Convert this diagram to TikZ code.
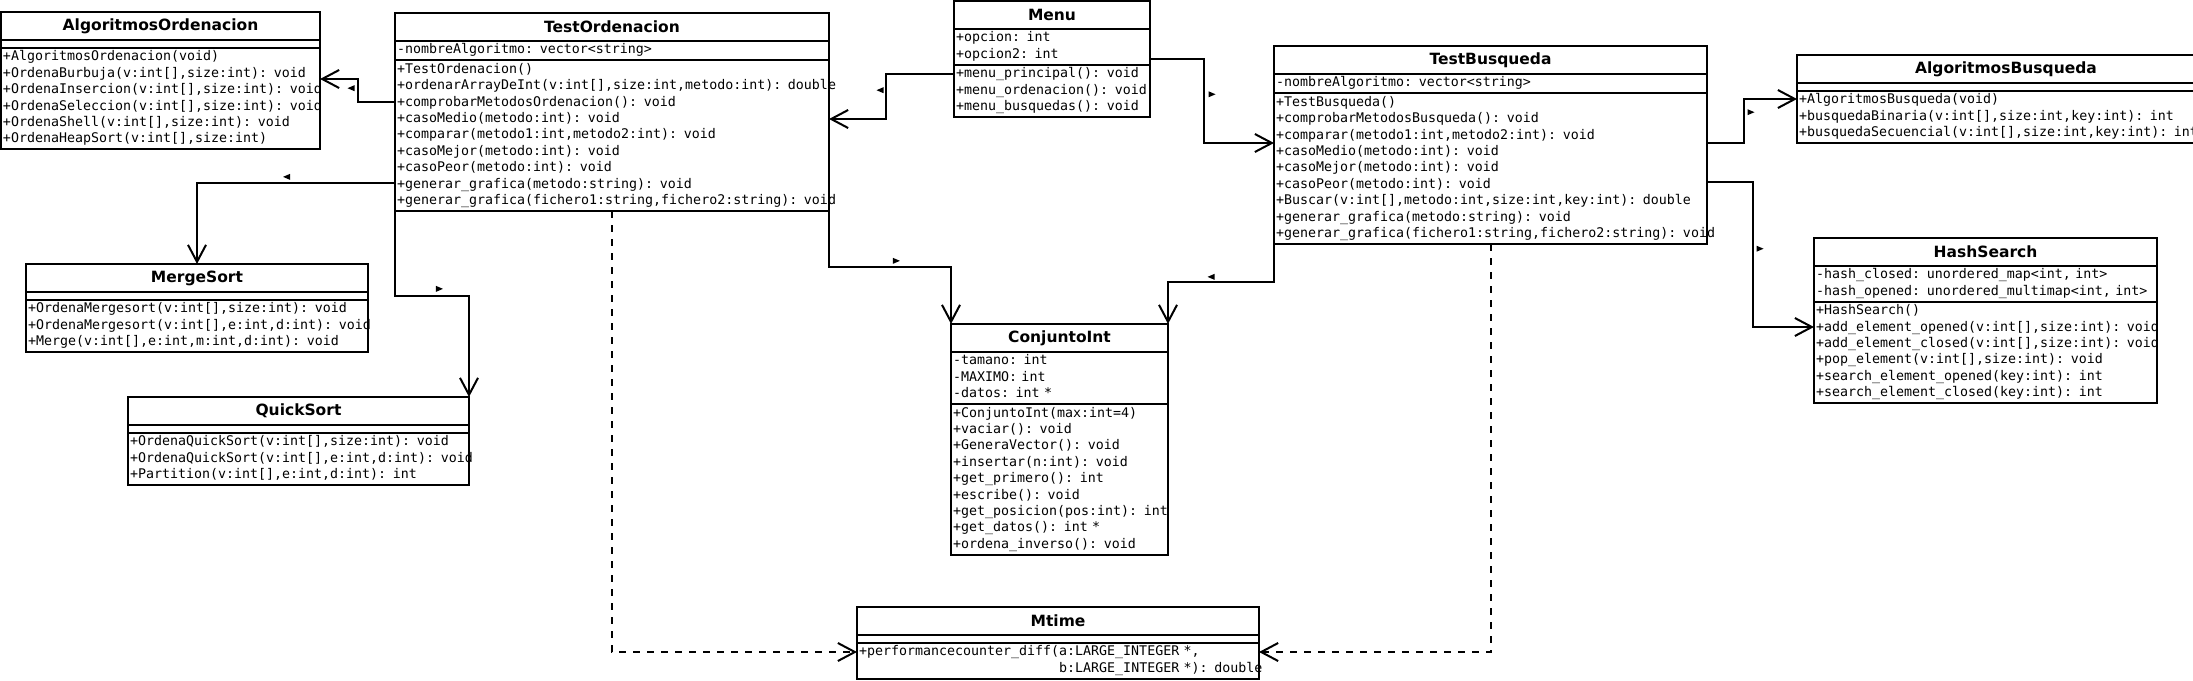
\documentclass[tikz,border=0pt]{standalone}
\usepackage{fontspec}
\newfontfamily\umlsans{DejaVu Sans}
\newfontfamily\umlmono{DejaVu Sans Mono}
\usetikzlibrary{arrows.meta,positioning,shapes.geometric}
\newcommand{\memfont}{\umlmono\fontsize{6.65}{8.2}\selectfont}
\newcommand{\titlefont}{\umlsans\bfseries\fontsize{7.75}{9}\selectfont}
\newcommand{\members}[1]{\noindent\begin{tabular}{@{}l@{}}#1\end{tabular}}
\tikzset{
  umlname/.style={draw, line width=1pt, inner sep=0pt, inner xsep=1pt, outer sep=0pt,
    text width=#1, align=center, minimum height=14pt, font=\titlefont, anchor=north west},
  umlpart/.style={draw, line width=1pt, inner sep=0pt, inner xsep=1pt, outer sep=0pt,
    text width=#1, align=left, font=\memfont},
  nrows/.style={minimum height=#1*8.2pt+1.5pt},
  nomembers/.style={minimum height=4pt},
  assoc/.style={line width=1pt, -{Straight Barb[length=8.5pt,width=9pt]}},
  depend/.style={assoc, dash pattern=on 3.5pt off 3.5pt},
  navtri/.style={isosceles triangle, isosceles triangle stretches, fill, draw=none,
    inner sep=0pt, outer sep=0pt, minimum width=3pt, minimum height=3.5pt},
  navleft/.style={navtri, shape border rotate=180},
  navright/.style={navtri, shape border rotate=0},
}
\begin{document}
\begin{tikzpicture}[x=0.5pt,y=0.5pt,yscale=-1,xscale=1]
\useasboundingbox (0,0) rectangle (2193,680);
\clip (0,0) rectangle (2193,680);

% Class: AlgoritmosOrdenacion
\node[umlname=157.5pt] (aordt) at (1,12) {AlgoritmosOrdenacion};
\node[umlpart=157.5pt, nomembers, below=0pt of aordt] (aorda) {};
\node[umlpart=157.5pt, nrows=6, below=0pt of aorda] (aordm) {\members{+AlgoritmosOrdenacion(void)\\
  +OrdenaBurbuja(v:int[],size:int): void\\
  +OrdenaInsercion(v:int[],size:int): void\\
  +OrdenaSeleccion(v:int[],size:int): void\\
  +OrdenaShell(v:int[],size:int): void\\
  +OrdenaHeapSort(v:int[],size:int)}};

% Class: TestOrdenacion
\node[umlname=215pt] (tordt) at (395,13) {TestOrdenacion};
\node[umlpart=215pt, nrows=1, below=0pt of tordt] (torda) {\members{-nombreAlgoritmo: vector<string>}};
\node[umlpart=215pt, nrows=9, below=0pt of torda] (tordm) {\members{+TestOrdenacion()\\
  +ordenarArrayDeInt(v:int[],size:int,metodo:int): double\\
  +comprobarMetodosOrdenacion(): void\\
  +casoMedio(metodo:int): void\\
  +comparar(metodo1:int,metodo2:int): void\\
  +casoMejor(metodo:int): void\\
  +casoPeor(metodo:int): void\\
  +generar\_grafica(metodo:string): void\\
  +generar\_grafica(fichero1:string,fichero2:string): void}};

% Class: Menu
\node[umlname=96pt] (menut) at (954,1) {Menu};
\node[umlpart=96pt, nrows=2, below=0pt of menut] (menua) {\members{+opcion: int\\ +opcion2: int}};
\node[umlpart=96pt, nrows=3, below=0pt of menua] (menum) {\members{+menu\_principal(): void\\
  +menu\_ordenacion(): void\\
  +menu\_busquedas(): void}};

% Class: TestBusqueda
\node[umlname=214.5pt] (tbust) at (1274,46) {TestBusqueda};
\node[umlpart=214.5pt, nrows=1, below=0pt of tbust] (tbusa) {\members{-nombreAlgoritmo: vector<string>}};
\node[umlpart=214.5pt, nrows=9, below=0pt of tbusa] (tbusm) {\members{+TestBusqueda()\\
  +comprobarMetodosBusqueda(): void\\
  +comparar(metodo1:int,metodo2:int): void\\
  +casoMedio(metodo:int): void\\
  +casoMejor(metodo:int): void\\
  +casoPeor(metodo:int): void\\
  +Buscar(v:int[],metodo:int,size:int,key:int): double\\
  +generar\_grafica(metodo:string): void\\
  +generar\_grafica(fichero1:string,fichero2:string): void}};

% Class: AlgoritmosBusqueda
\node[umlname=207pt] (abust) at (1797,55) {AlgoritmosBusqueda};
\node[umlpart=207pt, nomembers, below=0pt of abust] (abusa) {};
\node[umlpart=207pt, nrows=3, below=0pt of abusa] (abusm) {\members{+AlgoritmosBusqueda(void)\\
  +busquedaBinaria(v:int[],size:int,key:int): int\\
  +busquedaSecuencial(v:int[],size:int,key:int): int}};

% Class: HashSearch
\node[umlname=169.5pt] (hasht) at (1814,238) {HashSearch};
\node[umlpart=169.5pt, nrows=2, below=0pt of hasht] (hasha) {\members{-hash\_closed: unordered\_map<int, int>\\
  -hash\_opened: unordered\_multimap<int, int>}};
\node[umlpart=169.5pt, nrows=6, below=0pt of hasha] (hashm) {\members{+HashSearch()\\
  +add\_element\_opened(v:int[],size:int): void\\
  +add\_element\_closed(v:int[],size:int): void\\
  +pop\_element(v:int[],size:int): void\\
  +search\_element\_opened(key:int): int\\
  +search\_element\_closed(key:int): int}};

% Class: MergeSort
\node[umlname=169pt] (msortt) at (26,264) {MergeSort};
\node[umlpart=169pt, nomembers, below=0pt of msortt] (msorta) {};
\node[umlpart=169pt, nrows=3, below=0pt of msorta] (msortm) {\members{+OrdenaMergesort(v:int[],size:int): void\\
  +OrdenaMergesort(v:int[],e:int,d:int): void\\
  +Merge(v:int[],e:int,m:int,d:int): void}};

% Class: QuickSort
\node[umlname=168.5pt] (qsortt) at (128,397) {QuickSort};
\node[umlpart=168.5pt, nomembers, below=0pt of qsortt] (qsorta) {};
\node[umlpart=168.5pt, nrows=3, below=0pt of qsorta] (qsortm) {\members{+OrdenaQuickSort(v:int[],size:int): void\\
  +OrdenaQuickSort(v:int[],e:int,d:int): void\\
  +Partition(v:int[],e:int,d:int): int}};

% Class: ConjuntoInt
\node[umlname=106.5pt] (cintt) at (951,324) {ConjuntoInt};
\node[umlpart=106.5pt, nrows=3, below=0pt of cintt] (cinta) {\members{-tamano: int\\ -MAXIMO: int\\ -datos: int *}};
\node[umlpart=106.5pt, nrows=9, below=0pt of cinta] (cintm) {\members{+ConjuntoInt(max:int=4)\\
  +vaciar(): void\\
  +GeneraVector(): void\\
  +insertar(n:int): void\\
  +get\_primero(): int\\
  +escribe(): void\\
  +get\_posicion(pos:int): int\\
  +get\_datos(): int *\\
  +ordena\_inverso(): void}};

% Class: Mtime
\node[umlname=199pt] (mtimet) at (857,607) {Mtime};
\node[umlpart=199pt, nomembers, below=0pt of mtimet] (mtimea) {};
\node[umlpart=199pt, nrows=2, below=0pt of mtimea] (mtimem) {\members{+performancecounter\_diff(a:LARGE\_INTEGER *,\\
  \phantom{+performancecounter\_diff(}b:LARGE\_INTEGER *): double}};

%Straight Lines: TestOrdenacion -> AlgoritmosOrdenacion
\draw[assoc] ([yshift=-16.85pt]tordm.west) -- ++(-37,0) |- node[navleft, pos=0.3, left=1.75pt] {} ([yshift=-9.85pt]aordm.east);
%Straight Lines: TestOrdenacion -> MergeSort
\draw[assoc] ([yshift=23.65pt]tordm.west) -| node[navleft, pos=0.27, above=2pt] {} (msortt.north);
%Straight Lines: TestOrdenacion -> QuickSort
\draw[assoc] (tordm.south west) -- ++(0,85) -| node[navright, pos=0.29, above=2.5pt] {} (qsortt.north east);
%Straight Lines: TestOrdenacion -> ConjuntoInt
\draw[assoc] (tordm.south east) -- ++(0,56) -| node[navright, pos=0.27, above=2pt] {} (cintt.north west);
%Straight Lines: TestBusqueda -> ConjuntoInt
\draw[assoc] (tbusm.south west) -- ++(0,38) -| node[navleft, pos=0.29, above=1.5pt] {} (cintt.north east);
%Straight Lines: Menu -> TestOrdenacion
\draw[assoc] ([yshift=-8.45pt]menum.west) -- ++(-68,0) |- node[navleft, pos=0.18, left=1.25pt] {} ([yshift=-8.35pt]tordm.east);
%Straight Lines: Menu -> TestBusqueda
\draw[assoc] ([yshift=6.05pt]menua.east) -- ++(54,0) |- node[navright, pos=0.21, right=2.25pt] {} ([yshift=-12.85pt]tbusm.west);
%Straight Lines: TestBusqueda -> AlgoritmosBusqueda
\draw[assoc] ([yshift=-12.85pt]tbusm.east) -- ++(37,0) |- node[navright, pos=0.35, right=1.75pt] {} ([yshift=-9.05pt]abusm.west);
%Straight Lines: TestBusqueda -> HashSearch
\draw[assoc] ([yshift=6.65pt]tbusm.east) -- ++(46,0) |- node[navright, pos=0.23, right=1.75pt] {} ([yshift=-12.75pt]hashm.west);

%Dashed Lines: dependencies on Mtime
\draw[depend] (tordm.south) |- ([yshift=-4.45pt]mtimem.west);
\draw[depend] (tbusm.south) |- ([yshift=-4.45pt]mtimem.east);
\end{tikzpicture}
\end{document}
